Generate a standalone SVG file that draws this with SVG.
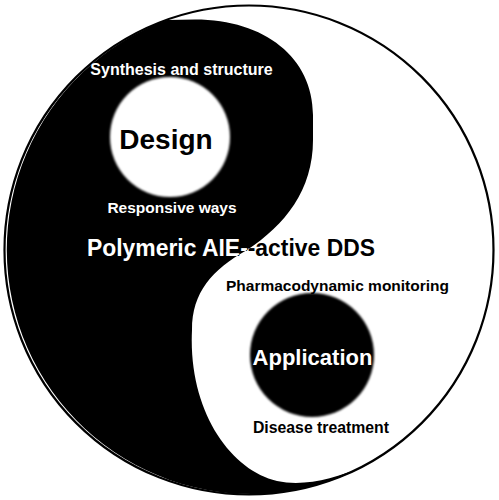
<svg xmlns="http://www.w3.org/2000/svg" width="499" height="500" viewBox="0 0 499 500">
<style>
.t{font-family:"Liberation Sans",Arial,sans-serif;font-weight:bold;text-anchor:middle}
.w{fill:#fff}
.b{fill:#000}
</style>
<defs>
<path id="yin" d="M 167,20 L 195,19.5 C 265,19.5 313,58 313,115 L 313,140 C 313,190 285,225 247,250 C 212,270 192,292 192,330 C 188,410 230,470 277,481 C 305,487 335,478 363,467 A 244.5 244.5 0 1 1 167,20 Z"/>
<clipPath id="yinClip"><use href="#yin"/></clipPath>
<filter id="soft" x="-10%" y="-10%" width="120%" height="120%"><feGaussianBlur stdDeviation="1.3"/></filter>
</defs>
<rect width="499" height="500" fill="#fff"/>
<g id="yinyang">
<use href="#yin" fill="#000"/>
<circle cx="249" cy="250" r="244.5" fill="none" stroke="#000" stroke-width="2.2"/>
</g>
<g id="design">
<circle cx="170" cy="137" r="60" fill="#fff" filter="url(#soft)"/>
<text class="t b" x="166" y="149" font-size="28">Design</text>
<text class="t w" x="181.5" y="75" font-size="16">Synthesis and structure</text>
<text class="t w" x="172" y="213" font-size="15.5">Responsive ways</text>
</g>
<g id="application">
<circle cx="312" cy="355" r="62" fill="#000" filter="url(#soft)"/>
<text class="t w" x="312.5" y="365" font-size="22">Application</text>
<text class="t b" x="337.5" y="291" font-size="15.5">Pharmacodynamic monitoring</text>
<text class="t b" x="321" y="433" font-size="15.8">Disease treatment</text>
</g>
<g id="title">
<text class="t b" x="231" y="256" font-size="23" textLength="288" lengthAdjust="spacingAndGlyphs">Polymeric AIE--active DDS</text>
<g clip-path="url(#yinClip)">
<text class="t w" x="231" y="256" font-size="23" textLength="288" lengthAdjust="spacingAndGlyphs">Polymeric AIE--active DDS</text>
</g>
</g>
<g id="connectors"/>
</svg>
